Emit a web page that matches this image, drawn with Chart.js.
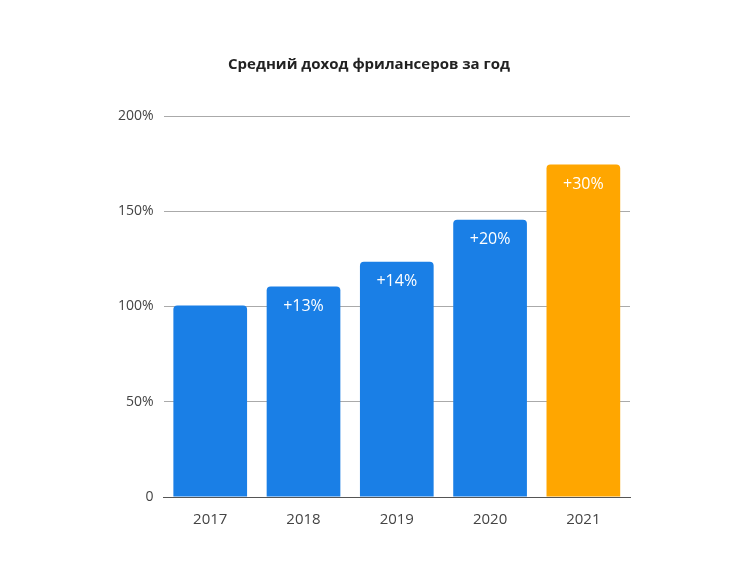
<!DOCTYPE html>
<html><head><meta charset="utf-8">
<script src="https://cdn.jsdelivr.net/npm/chart.js@4"></script>
<style>html,body{margin:0;background:#fff}#w{width:750px;height:587px}</style>
</head><body><div id="w"><canvas id="c"></canvas></div>
<script>
const categories=["2017","2018","2019","2020","2021"];
const values=[100.5,110.5,123.5,145.5,174.5];
const growthLabels=["","+13%","+14%","+20%","+30%"];
const colors=["#1a7fe6","#1a7fe6","#1a7fe6","#1a7fe6","#ffa600"];
const tickLabels={0:"0",50:"50%",100:"100%",150:"150%",200:"200%"};
const labelPlugin={id:"lbl",afterDatasetsDraw(ch){const ctx=ch.ctx;const meta=ch.getDatasetMeta(0);ctx.save();ctx.fillStyle="#fff";ctx.font="16px 'Open Sans'";ctx.textAlign="center";ctx.textBaseline="middle";meta.data.forEach((b,i)=>{if(growthLabels[i])ctx.fillText(growthLabels[i],b.x,b.y+20);});ctx.restore();}};
new Chart(document.getElementById("c"),{type:"bar",data:{labels:categories,datasets:[{data:values,backgroundColor:colors,borderRadius:{topLeft:4,topRight:4},borderSkipped:"bottom",barPercentage:0.79,categoryPercentage:1}]},
options:{responsive:true,maintainAspectRatio:false,animation:false,layout:{padding:{left:108,right:120,top:46,bottom:52}},
plugins:{legend:{display:false},tooltip:{enabled:false},title:{display:true,text:"Средний доход фрилансеров за год",color:"#222",font:{family:"'Open Sans'",size:15,weight:"bold"},padding:{top:10,bottom:42}}},
scales:{x:{grid:{display:false},border:{color:"#555"},ticks:{color:"#444",font:{family:"'Open Sans'",size:15},padding:6}},
y:{min:0,max:200,border:{display:false},grid:{color:(c)=>c.tick.value===0?"#555":"#aaa",drawTicks:false},ticks:{stepSize:50,padding:10,color:"#444",font:{family:"'Open Sans'",size:14},callback:(v)=>tickLabels[v]}}}},
plugins:[labelPlugin]});
</script></body></html>
